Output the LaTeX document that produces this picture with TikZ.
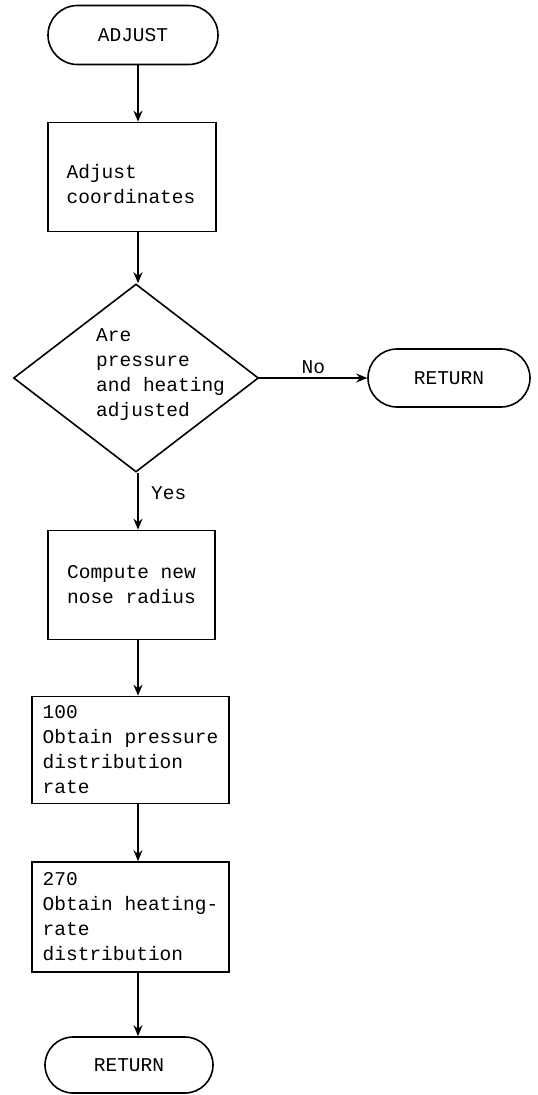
\documentclass[tikz,border=0pt]{standalone}
\usepackage{fontspec}
\setmainfont{Liberation Mono}
\usetikzlibrary{shapes.geometric,shapes.misc,arrows.meta}
\tikzset{
  flow/.style={line width=1.6pt, -{Stealth[length=11pt,width=9pt]}},
  terminal/.style={rounded rectangle, draw, line width=1.6pt, inner sep=0pt},
  procbox/.style={rectangle, draw, line width=1.6pt, inner sep=0pt, align=left},
  txt/.style={font=\fontsize{19.5pt}{25pt}\selectfont},
}
\begin{document}
\begin{tikzpicture}[x=1pt,y=-1pt,txt]
\useasboundingbox (0,0) rectangle (538,1095);
% column of the main flow
\coordinate (col) at (138,0);
\node[terminal, minimum width=170pt, minimum height=59pt] (adj) at (133,35) {ADJUST};
\node[procbox, minimum width=168pt, minimum height=109pt] (coord) at (132,177) {};
\node[align=left, inner sep=0pt] (coordtxt) at (131,184) {Adjust\\coordinates};
\node[diamond, draw, line width=1.6pt, inner sep=0pt, minimum width=245pt, minimum height=188pt] (dec) at (136,378) {};
\node[align=left, anchor=west, inner sep=0pt] (dectxt) at (96,375) {Are\\pressure\\and heating\\adjusted};
\node[terminal, minimum width=162pt, minimum height=58pt] (ret1) at (449,378) {RETURN};
\node[procbox, minimum width=167pt, minimum height=109pt] (nose) at (131.5,585) {Compute new\\nose radius};
\node[procbox, minimum width=197pt, minimum height=107pt] (press) at (130.5,750) {100\\Obtain pressure\\distribution\\rate};
\node[procbox, minimum width=197pt, minimum height=110pt] (heat) at (130.5,917) {270\\Obtain heating-\\rate\\distribution};
\node[terminal, minimum width=168pt, minimum height=56pt] (ret2) at (129,1065) {RETURN};
% connectors
\draw[flow] (adj.south -| col) -- (coord.north -| col);
\draw[flow] (coord.south -| col) -- (dec.north -| col);
\draw[flow] (dec.east) -- node[above=4pt, inner sep=0pt] (no) {No} (ret1.west);
\draw[flow] (dec.south -| col) -- (nose.north -| col);
\node[anchor=west, inner sep=0pt] (yes) at (151,493) {Yes};
\draw[flow] (nose.south -| col) -- (press.north -| col);
\draw[flow] (press.south -| col) -- (heat.north -| col);
\draw[flow] (heat.south -| col) -- (ret2.north -| col);
\end{tikzpicture}
\end{document}
